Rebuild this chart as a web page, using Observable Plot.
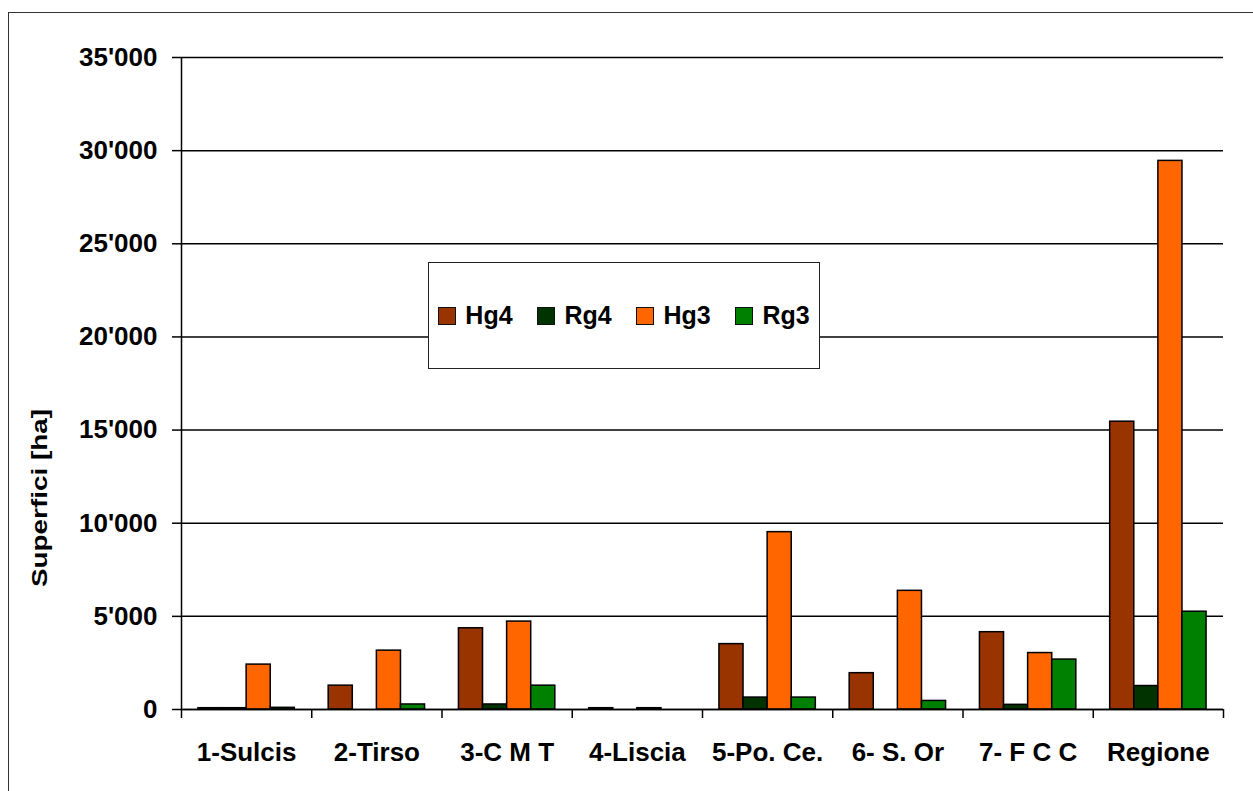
<!DOCTYPE html>
<html><head><meta charset="utf-8">
<script src="https://cdn.jsdelivr.net/npm/d3@7"></script>
<script src="https://cdn.jsdelivr.net/npm/@observablehq/plot@0.6"></script>
<style>
html,body{margin:0;padding:0;background:#fff;overflow:hidden;width:1253px;height:791px;}
#wrap{position:relative;width:1253px;height:791px;font-family:"Liberation Sans",Arial,sans-serif;}
#frame{position:absolute;left:8px;top:12px;width:1400px;height:900px;border-top:1.5px solid #333;border-left:1.5px solid #333;}
#chart{position:absolute;left:0;top:0;}
#ylab{position:absolute;left:0;top:0;}
#legend{position:absolute;left:428px;top:262px;width:392px;height:107px;box-sizing:border-box;border:1.5px solid #222;background:#fff;display:flex;align-items:center;justify-content:center;font-size:25px;font-weight:bold;color:#000;}
.item{display:flex;align-items:center;margin:0 12.4px;}
.sw{width:18px;height:18px;box-sizing:border-box;border:1.5px solid #111;margin-right:9px;}
</style>
</head><body>
<div id="wrap"><div id="frame"></div><div id="chart"></div><div id="legend"></div></div>
<script>
const categories = ["1-Sulcis", "2-Tirso", "3-C M T", "4-Liscia", "5-Po. Ce.", "6- S. Or", "7- F C C", "Regione"];
const series = ["Hg4", "Rg4", "Hg3", "Rg3"];
const colors = ["#993300", "#003300", "#FF6600", "#008000"];
const hg4 = [70, 1280, 4360, 70, 3510, 1950, 4150, 15450];
const rg4 = [70, 0, 270, 0, 640, 0, 250, 1260];
const hg3 = [2410, 3160, 4720, 70, 9520, 6370, 3030, 29450];
const rg3 = [90, 270, 1280, 0, 640, 460, 2680, 5250];
const yTicks = [0, 5000, 10000, 15000, 20000, 25000, 30000, 35000];
const yLabel = "Superfici [ha]";

const seriesValues = [hg4, rg4, hg3, rg3];
const pad = 0.13, bw = 0.185;
const rows = categories.flatMap((c, i) => series.map((s, j) => ({
  cat: c, series: s, value: seriesValues[j][i],
  x1: i + pad + j * bw, x2: i + pad + (j + 1) * bw
})));
const fmt = d3.formatLocale({thousands: "'", grouping: [3], decimal: ".", currency: ["", ""]}).format(",");
const font = {fontFamily: "'Liberation Sans', Arial, sans-serif", fontSize: "26px", fontWeight: "bold", color: "#000", background: "transparent", overflow: "visible"};

const plot = Plot.plot({
  width: 1253, height: 791,
  marginLeft: 181, marginRight: 30, marginTop: 57, marginBottom: 82,
  style: font,
  x: {domain: [0, categories.length]},
  y: {domain: [0, 35000]},
  color: {domain: series, range: colors},
  marks: [
    Plot.gridY(yTicks, {stroke: "#000", strokeOpacity: 1, strokeWidth: 1.5}),
    Plot.rect(rows, {x1: "x1", x2: "x2", y1: 0, y2: "value", fill: "series", stroke: "#000", strokeWidth: 1.5}),
    Plot.ruleY([0], {stroke: "#000", strokeWidth: 1.5}),
    Plot.ruleX([0], {stroke: "#000", strokeWidth: 1.5}),
    Plot.axisY(yTicks, {tickFormat: fmt, tickSize: 9, tickPadding: 15, label: null, strokeWidth: 1.5}),
    Plot.axisX(d3.range(categories.length + 1), {tickFormat: () => "", tickSize: 9, label: null, strokeWidth: 1.5}),
    Plot.axisX(categories.map((c, i) => i + 0.5), {tickFormat: d => categories[Math.floor(d)], tickSize: 0, tickPadding: 33, label: null})
  ]
});
document.getElementById("chart").appendChild(plot);

// y-axis title
const ns = "http://www.w3.org/2000/svg";
const svg = document.createElementNS(ns, "svg");
svg.setAttribute("width", 80); svg.setAttribute("height", 791);
svg.setAttribute("id", "ylab");
svg.style.position = "absolute"; svg.style.left = "0px"; svg.style.top = "0px";
const t = document.createElementNS(ns, "text");
t.setAttribute("transform", "translate(46.5,498) rotate(-90)");
t.setAttribute("text-anchor", "middle");
t.setAttribute("font-family", "'Liberation Sans', Arial, sans-serif");
t.setAttribute("font-size", "22");
t.setAttribute("font-weight", "bold");
t.setAttribute("textLength", "178");
t.setAttribute("lengthAdjust", "spacingAndGlyphs");
t.textContent = yLabel;
svg.appendChild(t);
document.getElementById("wrap").appendChild(svg);

// legend
const leg = document.getElementById("legend");
series.forEach((s, j) => {
  const it = document.createElement("div"); it.className = "item";
  const sw = document.createElement("div"); sw.className = "sw"; sw.style.background = colors[j];
  const lb = document.createElement("span"); lb.textContent = s;
  it.appendChild(sw); it.appendChild(lb); leg.appendChild(it);
});
</script>
</body></html>
